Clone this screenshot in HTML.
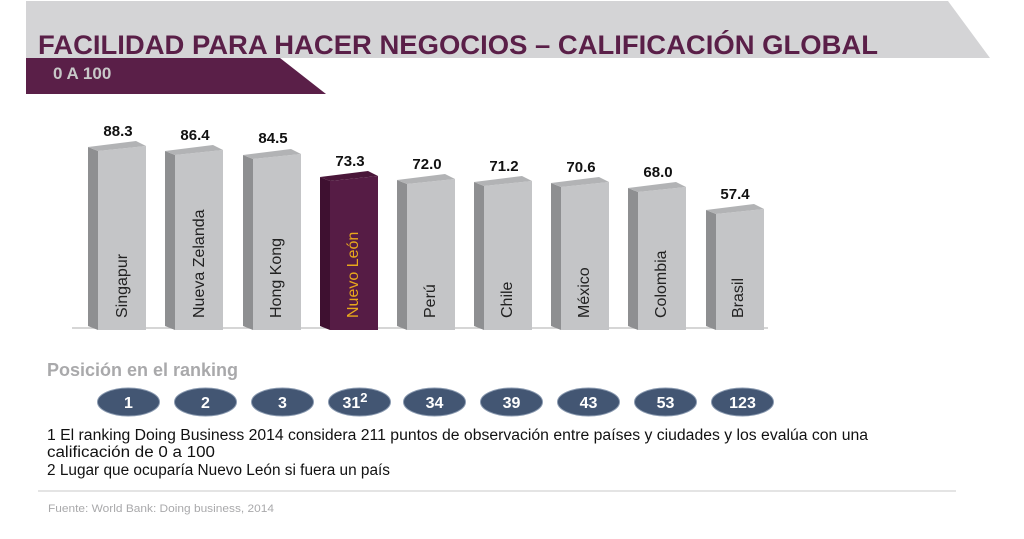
<!DOCTYPE html>
<html><head><meta charset="utf-8"><style>
body{margin:0;background:#fff;width:1024px;height:534px;overflow:hidden;font-family:"Liberation Sans",Arial,sans-serif}
</style></head><body>
<svg width="1024" height="534" viewBox="0 0 1024 534" xmlns="http://www.w3.org/2000/svg" font-family="Liberation Sans, Arial, sans-serif">
<polygon points="26,1 948,1 990,58 26,58" fill="#d4d4d6"/>
<polygon points="26,58 280,58 326,94 26,94" fill="#5a1f48"/>
<text x="38" y="54" font-size="27" font-weight="bold" fill="#5a1f48" textLength="840" lengthAdjust="spacingAndGlyphs">FACILIDAD PARA HACER NEGOCIOS – CALIFICACIÓN GLOBAL</text>
<text x="53" y="79" font-size="17" font-weight="bold" fill="#c8c8c8">0 A 100</text>
<line x1="72" y1="328" x2="768" y2="328" stroke="#c8c8c8" stroke-width="1.5"/>
<g font-size="15" font-weight="bold" text-anchor="middle" fill="#111">
<text x="118" y="136">88.3</text><text x="195" y="140">86.4</text><text x="273" y="143">84.5</text><text x="350" y="166">73.3</text><text x="427" y="169">72.0</text><text x="504" y="171">71.2</text><text x="581" y="172">70.6</text><text x="658" y="177">68.0</text><text x="735" y="199">57.4</text>
</g>
<g>
<polygon points="88,147 98,151 98,330 88,326" fill="#8e8f91"/><polygon points="98,151 146,146 146,330 98,330" fill="#c4c5c7"/><polygon points="88,147 136,141 146,146 98,151" fill="#b2b3b5"/>
<polygon points="165,151 175,155 175,330 165,326" fill="#8e8f91"/><polygon points="175,155 223,150 223,330 175,330" fill="#c4c5c7"/><polygon points="165,151 213,145 223,150 175,155" fill="#b2b3b5"/>
<polygon points="243,155 253,159 253,330 243,326" fill="#8e8f91"/><polygon points="253,159 301,154 301,330 253,330" fill="#c4c5c7"/><polygon points="243,155 291,149 301,154 253,159" fill="#b2b3b5"/>
<polygon points="320,177 330,181 330,330 320,326" fill="#3e1030"/><polygon points="330,181 378,176 378,330 330,330" fill="#561c45"/><polygon points="320,177 368,171 378,176 330,181" fill="#4a1639"/>
<polygon points="397,180 407,184 407,330 397,326" fill="#8e8f91"/><polygon points="407,184 455,179 455,330 407,330" fill="#c4c5c7"/><polygon points="397,180 445,174 455,179 407,184" fill="#b2b3b5"/>
<polygon points="474,182 484,186 484,330 474,326" fill="#8e8f91"/><polygon points="484,186 532,181 532,330 484,330" fill="#c4c5c7"/><polygon points="474,182 522,176 532,181 484,186" fill="#b2b3b5"/>
<polygon points="551,183 561,187 561,330 551,326" fill="#8e8f91"/><polygon points="561,187 609,182 609,330 561,330" fill="#c4c5c7"/><polygon points="551,183 599,177 609,182 561,187" fill="#b2b3b5"/>
<polygon points="628,188 638,192 638,330 628,326" fill="#8e8f91"/><polygon points="638,192 686,187 686,330 638,330" fill="#c4c5c7"/><polygon points="628,188 676,182 686,187 638,192" fill="#b2b3b5"/>
<polygon points="706,210 716,214 716,330 706,326" fill="#8e8f91"/><polygon points="716,214 764,209 764,330 716,330" fill="#c4c5c7"/><polygon points="706,210 754,204 764,209 716,214" fill="#b2b3b5"/>
</g>
<g font-size="16" fill="#222">
<text transform="translate(127,318) rotate(-90)">Singapur</text>
<text transform="translate(204,318) rotate(-90)">Nueva Zelanda</text>
<text transform="translate(281,318) rotate(-90)">Hong Kong</text>
<text transform="translate(358,318) rotate(-90)" fill="#e8a81c">Nuevo León</text>
<text transform="translate(435,318) rotate(-90)">Perú</text>
<text transform="translate(512,318) rotate(-90)">Chile</text>
<text transform="translate(589,318) rotate(-90)">México</text>
<text transform="translate(666,318) rotate(-90)">Colombia</text>
<text transform="translate(743,318) rotate(-90)">Brasil</text>
</g>
<text x="47" y="376" font-size="18" font-weight="bold" fill="#a9a9ab">Posición en el ranking</text>
<g fill="#435673" stroke="#8a9ab0" stroke-width="1">
<ellipse cx="128.5" cy="402" rx="31" ry="14"/><ellipse cx="205.5" cy="402" rx="31" ry="14"/><ellipse cx="282.5" cy="402" rx="31" ry="14"/><ellipse cx="359.5" cy="402" rx="31" ry="14"/><ellipse cx="434.5" cy="402" rx="31" ry="14"/><ellipse cx="511.5" cy="402" rx="31" ry="14"/><ellipse cx="588.5" cy="402" rx="31" ry="14"/><ellipse cx="665.5" cy="402" rx="31" ry="14"/><ellipse cx="742.5" cy="402" rx="31" ry="14"/>
</g>
<g font-size="16" font-weight="bold" fill="#fff" text-anchor="middle">
<text x="128.5" y="408">1</text><text x="205.5" y="408">2</text><text x="282.5" y="408">3</text><text x="355" y="408">31<tspan font-size="13" dy="-6">2</tspan></text><text x="434.5" y="408">34</text><text x="511.5" y="408">39</text><text x="588.5" y="408">43</text><text x="665.5" y="408">53</text><text x="742.5" y="408">123</text>
</g>
<g font-size="15.5" fill="#111">
<text x="47" y="440" textLength="821" lengthAdjust="spacingAndGlyphs">1 El ranking Doing Business 2014 considera 211 puntos de observación entre países y ciudades y los evalúa con una</text>
<text x="47" y="457" textLength="168" lengthAdjust="spacingAndGlyphs">calificación de 0 a 100</text>
<text x="47" y="475" textLength="343" lengthAdjust="spacingAndGlyphs">2 Lugar que ocuparía Nuevo León si fuera un país</text>
</g>
<line x1="38" y1="491" x2="956" y2="491" stroke="#c8c8c8" stroke-width="1"/>
<text x="48" y="512" font-size="11" fill="#a9a9ab" textLength="226" lengthAdjust="spacingAndGlyphs">Fuente: World Bank: Doing business, 2014</text>
</svg>
</body></html>
